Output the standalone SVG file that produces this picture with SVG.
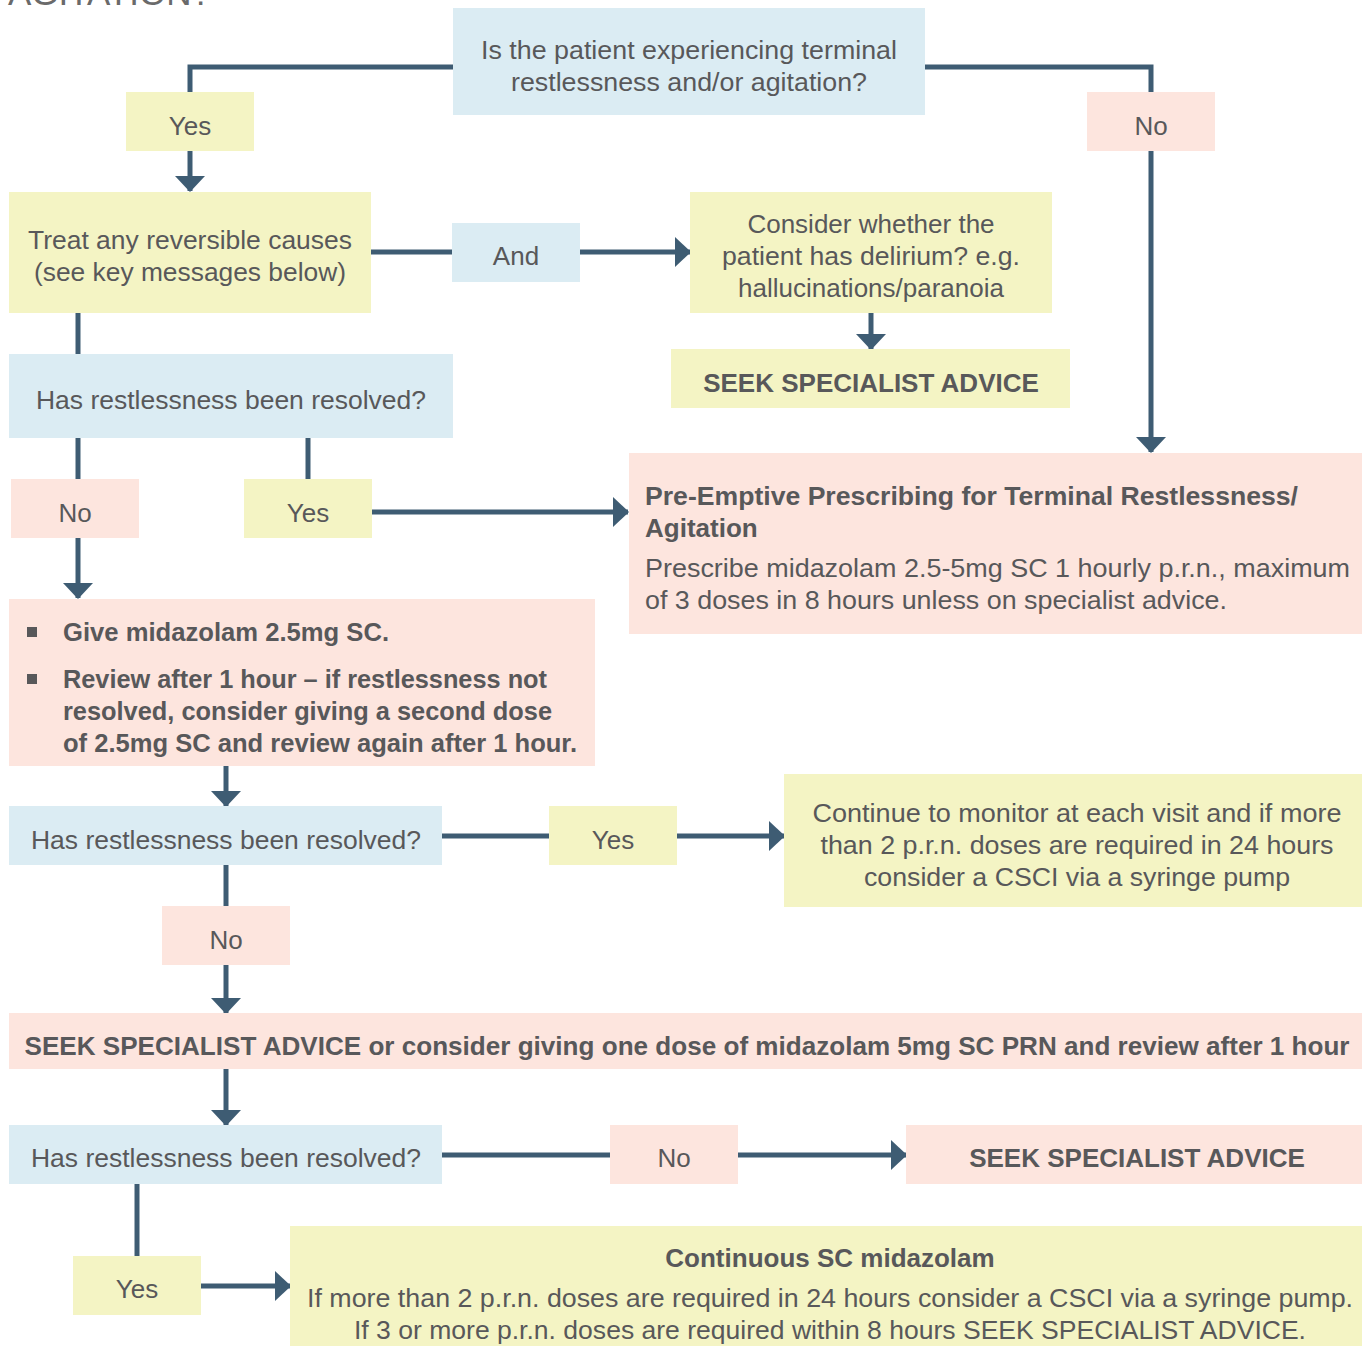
<svg xmlns="http://www.w3.org/2000/svg" width="1362" height="1346" viewBox="0 0 1362 1346">
<style>
.blue{fill:#dbecf3}
.yel{fill:#f4f4c4}
.pink{fill:#fde5de}
text{font-family:"Liberation Sans",Arial,sans-serif;font-size:26px;fill:#58585a}
.c{text-anchor:middle}
.b{font-weight:bold}
.ln{fill:none;stroke:#3e5c73;stroke-width:5}
</style>
<defs>
<marker id="ah" viewBox="0 0 16 30" refX="15" refY="15" markerWidth="16" markerHeight="30" markerUnits="userSpaceOnUse" orient="auto">
<path d="M0,0 L16,15 L0,30 z" fill="#3e5c73"/>
</marker>
</defs>
<text x="8" y="5" style="font-size:35px;fill:#6a6a6a">AGITATION?</text>
<g id="connectors">
<polyline class="ln" points="453,67 190,67 190,92"/>
<line class="ln" x1="190" y1="151" x2="190" y2="191" marker-end="url(#ah)"/>
<polyline class="ln" points="925,67 1151,67 1151,92"/>
<line class="ln" x1="1151" y1="151" x2="1151" y2="452" marker-end="url(#ah)"/>
<line class="ln" x1="371" y1="252" x2="452" y2="252"/>
<line class="ln" x1="580" y1="252" x2="690" y2="252" marker-end="url(#ah)"/>
<line class="ln" x1="871" y1="313" x2="871" y2="349" marker-end="url(#ah)"/>
<line class="ln" x1="78" y1="313" x2="78" y2="354"/>
<line class="ln" x1="78" y1="438" x2="78" y2="479"/>
<line class="ln" x1="78" y1="538" x2="78" y2="598" marker-end="url(#ah)"/>
<line class="ln" x1="308" y1="438" x2="308" y2="479"/>
<line class="ln" x1="372" y1="512" x2="628" y2="512" marker-end="url(#ah)"/>
<line class="ln" x1="226" y1="766" x2="226" y2="806" marker-end="url(#ah)"/>
<line class="ln" x1="442" y1="836" x2="549" y2="836"/>
<line class="ln" x1="677" y1="836" x2="784" y2="836" marker-end="url(#ah)"/>
<line class="ln" x1="226" y1="865" x2="226" y2="906"/>
<line class="ln" x1="226" y1="965" x2="226" y2="1013" marker-end="url(#ah)"/>
<line class="ln" x1="226" y1="1069" x2="226" y2="1125" marker-end="url(#ah)"/>
<line class="ln" x1="442" y1="1155" x2="610" y2="1155"/>
<line class="ln" x1="738" y1="1155" x2="906" y2="1155" marker-end="url(#ah)"/>
<line class="ln" x1="137" y1="1184" x2="137" y2="1256"/>
<line class="ln" x1="201" y1="1286" x2="290" y2="1286" marker-end="url(#ah)"/>
</g>
<g id="q1"><rect class="blue" x="453" y="8" width="472" height="107"/>
<text class="c" x="689" y="59" textLength="416" lengthAdjust="spacingAndGlyphs">Is the patient experiencing terminal</text>
<text class="c" x="689" y="91" textLength="356" lengthAdjust="spacingAndGlyphs">restlessness and/or agitation?</text></g>
<g id="yes1"><rect class="yel" x="126" y="92" width="128" height="59"/><text class="c" x="190" y="135">Yes</text></g>
<g id="no1"><rect class="pink" x="1087" y="92" width="128" height="59"/><text class="c" x="1151" y="135">No</text></g>
<g id="treat"><rect class="yel" x="9" y="192" width="362" height="121"/>
<text class="c" x="190" y="249" textLength="324" lengthAdjust="spacingAndGlyphs">Treat any reversible causes</text>
<text class="c" x="190" y="281" textLength="312" lengthAdjust="spacingAndGlyphs">(see key messages below)</text></g>
<g id="and"><rect class="blue" x="452" y="223" width="128" height="59"/><text class="c" x="516" y="265">And</text></g>
<g id="delirium"><rect class="yel" x="690" y="192" width="362" height="121"/>
<text class="c" x="871" y="233">Consider whether the</text>
<text class="c" x="871" y="265" textLength="298" lengthAdjust="spacingAndGlyphs">patient has delirium? e.g.</text>
<text class="c" x="871" y="297">hallucinations/paranoia</text></g>
<g id="seek1"><rect class="yel" x="671" y="349" width="399" height="59"/><text class="c b" x="871" y="392">SEEK SPECIALIST ADVICE</text></g>
<g id="q2"><rect class="blue" x="9" y="354" width="444" height="84"/><text class="c" x="231" y="409" textLength="390" lengthAdjust="spacingAndGlyphs">Has restlessness been resolved?</text></g>
<g id="no2"><rect class="pink" x="11" y="479" width="128" height="59"/><text class="c" x="75" y="522">No</text></g>
<g id="yes2"><rect class="yel" x="244" y="479" width="128" height="59"/><text class="c" x="308" y="522">Yes</text></g>
<g id="preempt"><rect class="pink" x="629" y="453" width="733" height="181"/>
<text class="b" x="645" y="505" textLength="653" lengthAdjust="spacingAndGlyphs">Pre-Emptive Prescribing for Terminal Restlessness/</text>
<text class="b" x="645" y="537">Agitation</text>
<text x="645" y="577" textLength="705" lengthAdjust="spacingAndGlyphs">Prescribe midazolam 2.5-5mg SC 1 hourly p.r.n., maximum</text>
<text x="645" y="609" textLength="582" lengthAdjust="spacingAndGlyphs">of 3 doses in 8 hours unless on specialist advice.</text></g>
<g id="give"><rect class="pink" x="9" y="599" width="586" height="167"/>
<rect x="27" y="627" width="10" height="10" fill="#58585a"/>
<rect x="27" y="674" width="10" height="10" fill="#58585a"/>
<text class="b" x="63" y="641" textLength="326" lengthAdjust="spacingAndGlyphs">Give midazolam 2.5mg SC.</text>
<text class="b" x="63" y="688" textLength="484" lengthAdjust="spacingAndGlyphs">Review after 1 hour – if restlessness not</text>
<text class="b" x="63" y="720" textLength="489" lengthAdjust="spacingAndGlyphs">resolved, consider giving a second dose</text>
<text class="b" x="63" y="752" textLength="514" lengthAdjust="spacingAndGlyphs">of 2.5mg SC and review again after 1 hour.</text></g>
<g id="q3"><rect class="blue" x="9" y="806" width="433" height="59"/><text class="c" x="226" y="849" textLength="390" lengthAdjust="spacingAndGlyphs">Has restlessness been resolved?</text></g>
<g id="yes3"><rect class="yel" x="549" y="806" width="128" height="59"/><text class="c" x="613" y="849">Yes</text></g>
<g id="monitor"><rect class="yel" x="784" y="774" width="578" height="133"/>
<text class="c" x="1077" y="822" textLength="529" lengthAdjust="spacingAndGlyphs">Continue to monitor at each visit and if more</text>
<text class="c" x="1077" y="854" textLength="513" lengthAdjust="spacingAndGlyphs">than 2 p.r.n. doses are required in 24 hours</text>
<text class="c" x="1077" y="886" textLength="426" lengthAdjust="spacingAndGlyphs">consider a CSCI via a syringe pump</text></g>
<g id="no3"><rect class="pink" x="162" y="906" width="128" height="59"/><text class="c" x="226" y="949">No</text></g>
<g id="seek2"><rect class="pink" x="9" y="1013" width="1353" height="56"/>
<text class="c b" x="687" y="1055" textLength="1325" lengthAdjust="spacingAndGlyphs">SEEK SPECIALIST ADVICE or consider giving one dose of midazolam 5mg SC PRN and review after 1 hour</text></g>
<g id="q4"><rect class="blue" x="9" y="1125" width="433" height="59"/><text class="c" x="226" y="1167" textLength="390" lengthAdjust="spacingAndGlyphs">Has restlessness been resolved?</text></g>
<g id="no4"><rect class="pink" x="610" y="1125" width="128" height="59"/><text class="c" x="674" y="1167">No</text></g>
<g id="seek3"><rect class="pink" x="906" y="1125" width="456" height="59"/><text class="c b" x="1137" y="1167">SEEK SPECIALIST ADVICE</text></g>
<g id="yes4"><rect class="yel" x="73" y="1256" width="128" height="59"/><text class="c" x="137" y="1298">Yes</text></g>
<g id="continuous"><rect class="yel" x="290" y="1226" width="1072" height="120"/>
<text class="c b" x="830" y="1267">Continuous SC midazolam</text>
<text class="c" x="830" y="1307" textLength="1046" lengthAdjust="spacingAndGlyphs">If more than 2 p.r.n. doses are required in 24 hours consider a CSCI via a syringe pump.</text>
<text class="c" x="830" y="1339" textLength="952" lengthAdjust="spacingAndGlyphs">If 3 or more p.r.n. doses are required within 8 hours SEEK SPECIALIST ADVICE.</text></g>
</svg>
